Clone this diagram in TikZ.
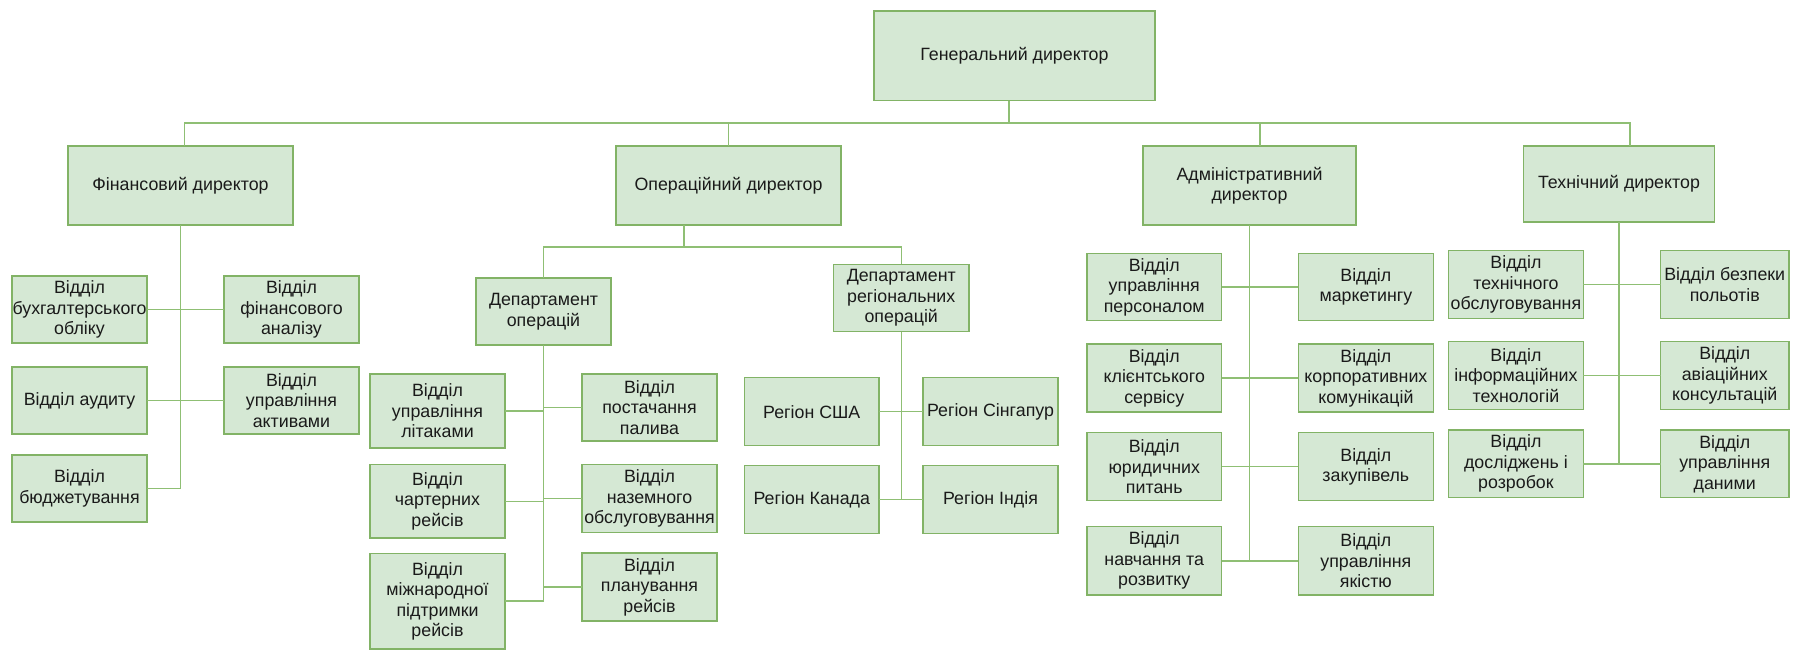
\documentclass[tikz,border=0pt]{standalone}
\usepackage{fontspec}
\setmainfont{Liberation Sans}
\definecolor{boxfill}{HTML}{D5E8D4}
\definecolor{boxline}{HTML}{82B366}
\definecolor{connline}{HTML}{8FBF74}
\definecolor{txt}{HTML}{1A1A1A}
\newcommand\orgbox[6]{%
  \pgfmathsetmacro\obcx{(#2+#4)/2}\pgfmathsetmacro\obcy{(#3+#5)/2}%
  \pgfmathsetmacro\obw{#4-#2}\pgfmathsetmacro\obh{#5-#3}%
  \node[orgnode,minimum width=\obw pt,minimum height=\obh pt] (#1) at (\obcx,\obcy) {#6};}
\begin{document}
\begin{tikzpicture}[x=1pt,y=-1pt,
  orgnode/.style={draw=boxline,fill=boxfill,line width=1.4pt,inner sep=0pt,outer sep=0pt,
    align=center,text=txt,font=\fontsize{17.8}{20.5}\selectfont},
  conn/.style={draw=connline,line width=1.4pt}]
\useasboundingbox (0,0) rectangle (1794,649);
% top
\orgbox{ceo}{874}{11}{1155}{100.7}{Генеральний директор}
\orgbox{fin}{68}{146}{293}{225}{Фінансовий директор}
\orgbox{ops}{616}{146}{841}{225}{Операційний директор}
\orgbox{adm}{1143}{146}{1356}{225}{Адміністративний\\директор}
\orgbox{tech}{1523.4}{146}{1714.5}{222}{Технічний директор}
% finance
\orgbox{bukh}{12}{276}{147}{343}{Відділ\\бухгалтерського\\обліку}
\orgbox{fa}{224}{276}{359}{343}{Відділ\\фінансового\\аналізу}
\orgbox{aud}{12}{367}{147}{434}{Відділ аудиту}
\orgbox{act}{224}{367}{359}{434}{Відділ\\управління\\активами}
\orgbox{bud}{12}{455}{147}{522}{Відділ\\бюджетування}
% operations
\orgbox{dep1}{476}{278}{611}{345}{Департамент\\операцій}
\orgbox{dep2}{833.7}{264.3}{968.8}{331.7}{Департамент\\регіональних\\операцій}
\orgbox{o1l}{370}{374}{505}{448}{Відділ\\управління\\літаками}
\orgbox{o1r}{582}{374}{717}{441}{Відділ\\постачання\\палива}
\orgbox{o2l}{370}{464.7}{505}{538}{Відділ\\чартерних\\рейсів}
\orgbox{o2r}{582}{464.7}{717}{532.3}{Відділ\\наземного\\обслуговування}
\orgbox{o3l}{370}{553.3}{505}{649}{Відділ\\міжнародної\\підтримки\\рейсів}
\orgbox{o3r}{582}{553}{717}{621}{Відділ\\планування\\рейсів}
\orgbox{usa}{744.6}{377.7}{879}{445.7}{Регіон США}
\orgbox{sg}{923}{377.7}{1058}{445.7}{Регіон Сінгапур}
\orgbox{kan}{744.6}{465.7}{879}{533.3}{Регіон Канада}
\orgbox{ind}{923}{465.7}{1058}{533.3}{Регіон Індія}
% administration
\orgbox{a1l}{1087}{253.3}{1221.5}{320.7}{Відділ\\управління\\персоналом}
\orgbox{a1r}{1298.3}{253.3}{1433.4}{320.7}{Відділ\\маркетингу}
\orgbox{a2l}{1087}{344}{1221.5}{412}{Відділ\\клієнтського\\сервісу}
\orgbox{a2r}{1298.3}{344}{1433.4}{412}{Відділ\\корпоративних\\комунікацій}
\orgbox{a3l}{1087}{432.7}{1221.5}{500.7}{Відділ\\юридичних\\питань}
\orgbox{a3r}{1298.3}{432.7}{1433.4}{500.7}{Відділ\\закупівель}
\orgbox{a4l}{1087}{526.7}{1221.5}{595}{Відділ\\навчання та\\розвитку}
\orgbox{a4r}{1298.3}{526.7}{1433.4}{595}{Відділ\\управління\\якістю}
% technical
\orgbox{t1l}{1448.6}{250.7}{1583.3}{318.3}{Відділ\\технічного\\обслуговування}
\orgbox{t1r}{1660.5}{250.7}{1789}{318.3}{Відділ безпеки\\польотів}
\orgbox{t2l}{1448.6}{341.7}{1583.3}{409.3}{Відділ\\інформаційних\\технологій}
\orgbox{t2r}{1660.5}{341.7}{1789}{409.3}{Відділ\\авіаційних\\консультацій}
\orgbox{t3l}{1448.6}{430}{1583.3}{497.7}{Відділ\\досліджень і\\розробок}
\orgbox{t3r}{1660.5}{430}{1789}{497.7}{Відділ\\управління\\даними}
% connectors: top level
\coordinate (busL) at (184.5,123);
\coordinate (busR) at (1630,123);
\draw[conn] ([xshift=-5.5pt]ceo.south) -- ([xshift=-5.5pt]ceo.south |- busL);
\draw[conn] (busL |- fin.north) -- (busL) -- (busR) -- (busR |- tech.north);
\draw[conn] (ops.north) -- (ops.north |- busL);
\draw[conn] ([xshift=10.5pt]adm.north) -- ([xshift=10.5pt]adm.north |- busL);
% finance
\draw[conn] (fin.south) -- (fin.south |- bud.east) -- (bud.east);
\draw[conn] (bukh.east) -- (fa.west);
\draw[conn] (aud.east) -- (act.west);
% operations
\coordinate (opsbar) at (684,247);
\draw[conn] ([xshift=-44.5pt]ops.south) -- (opsbar);
\draw[conn] (dep1.north) |- (opsbar) -| (dep2.north);
\draw[conn] (dep1.south) -- (dep1.south |- o3l.east);
\foreach \b in {o1l,o2l,o3l}{\draw[conn] (\b.east) -- (\b.east -| dep1.south);}
\foreach \b in {o1r,o2r,o3r}{\draw[conn] (\b.west) -- (\b.west -| dep1.south);}
\draw[conn] (dep2.south) -- (dep2.south |- kan.east);
\draw[conn] (usa.east) -- (sg.west);
\draw[conn] (kan.east) -- (ind.west);
% administration
\draw[conn] (adm.south) -- (adm.south |- a4l.east);
\foreach \i in {1,2,3,4}{\draw[conn] (a\i l.east) -- (a\i r.west);}
% technical
\draw[conn] (tech.south) -- (tech.south |- t3l.east);
\foreach \i in {1,2,3}{\draw[conn] (t\i l.east) -- (t\i r.west);}
\end{tikzpicture}
\end{document}
